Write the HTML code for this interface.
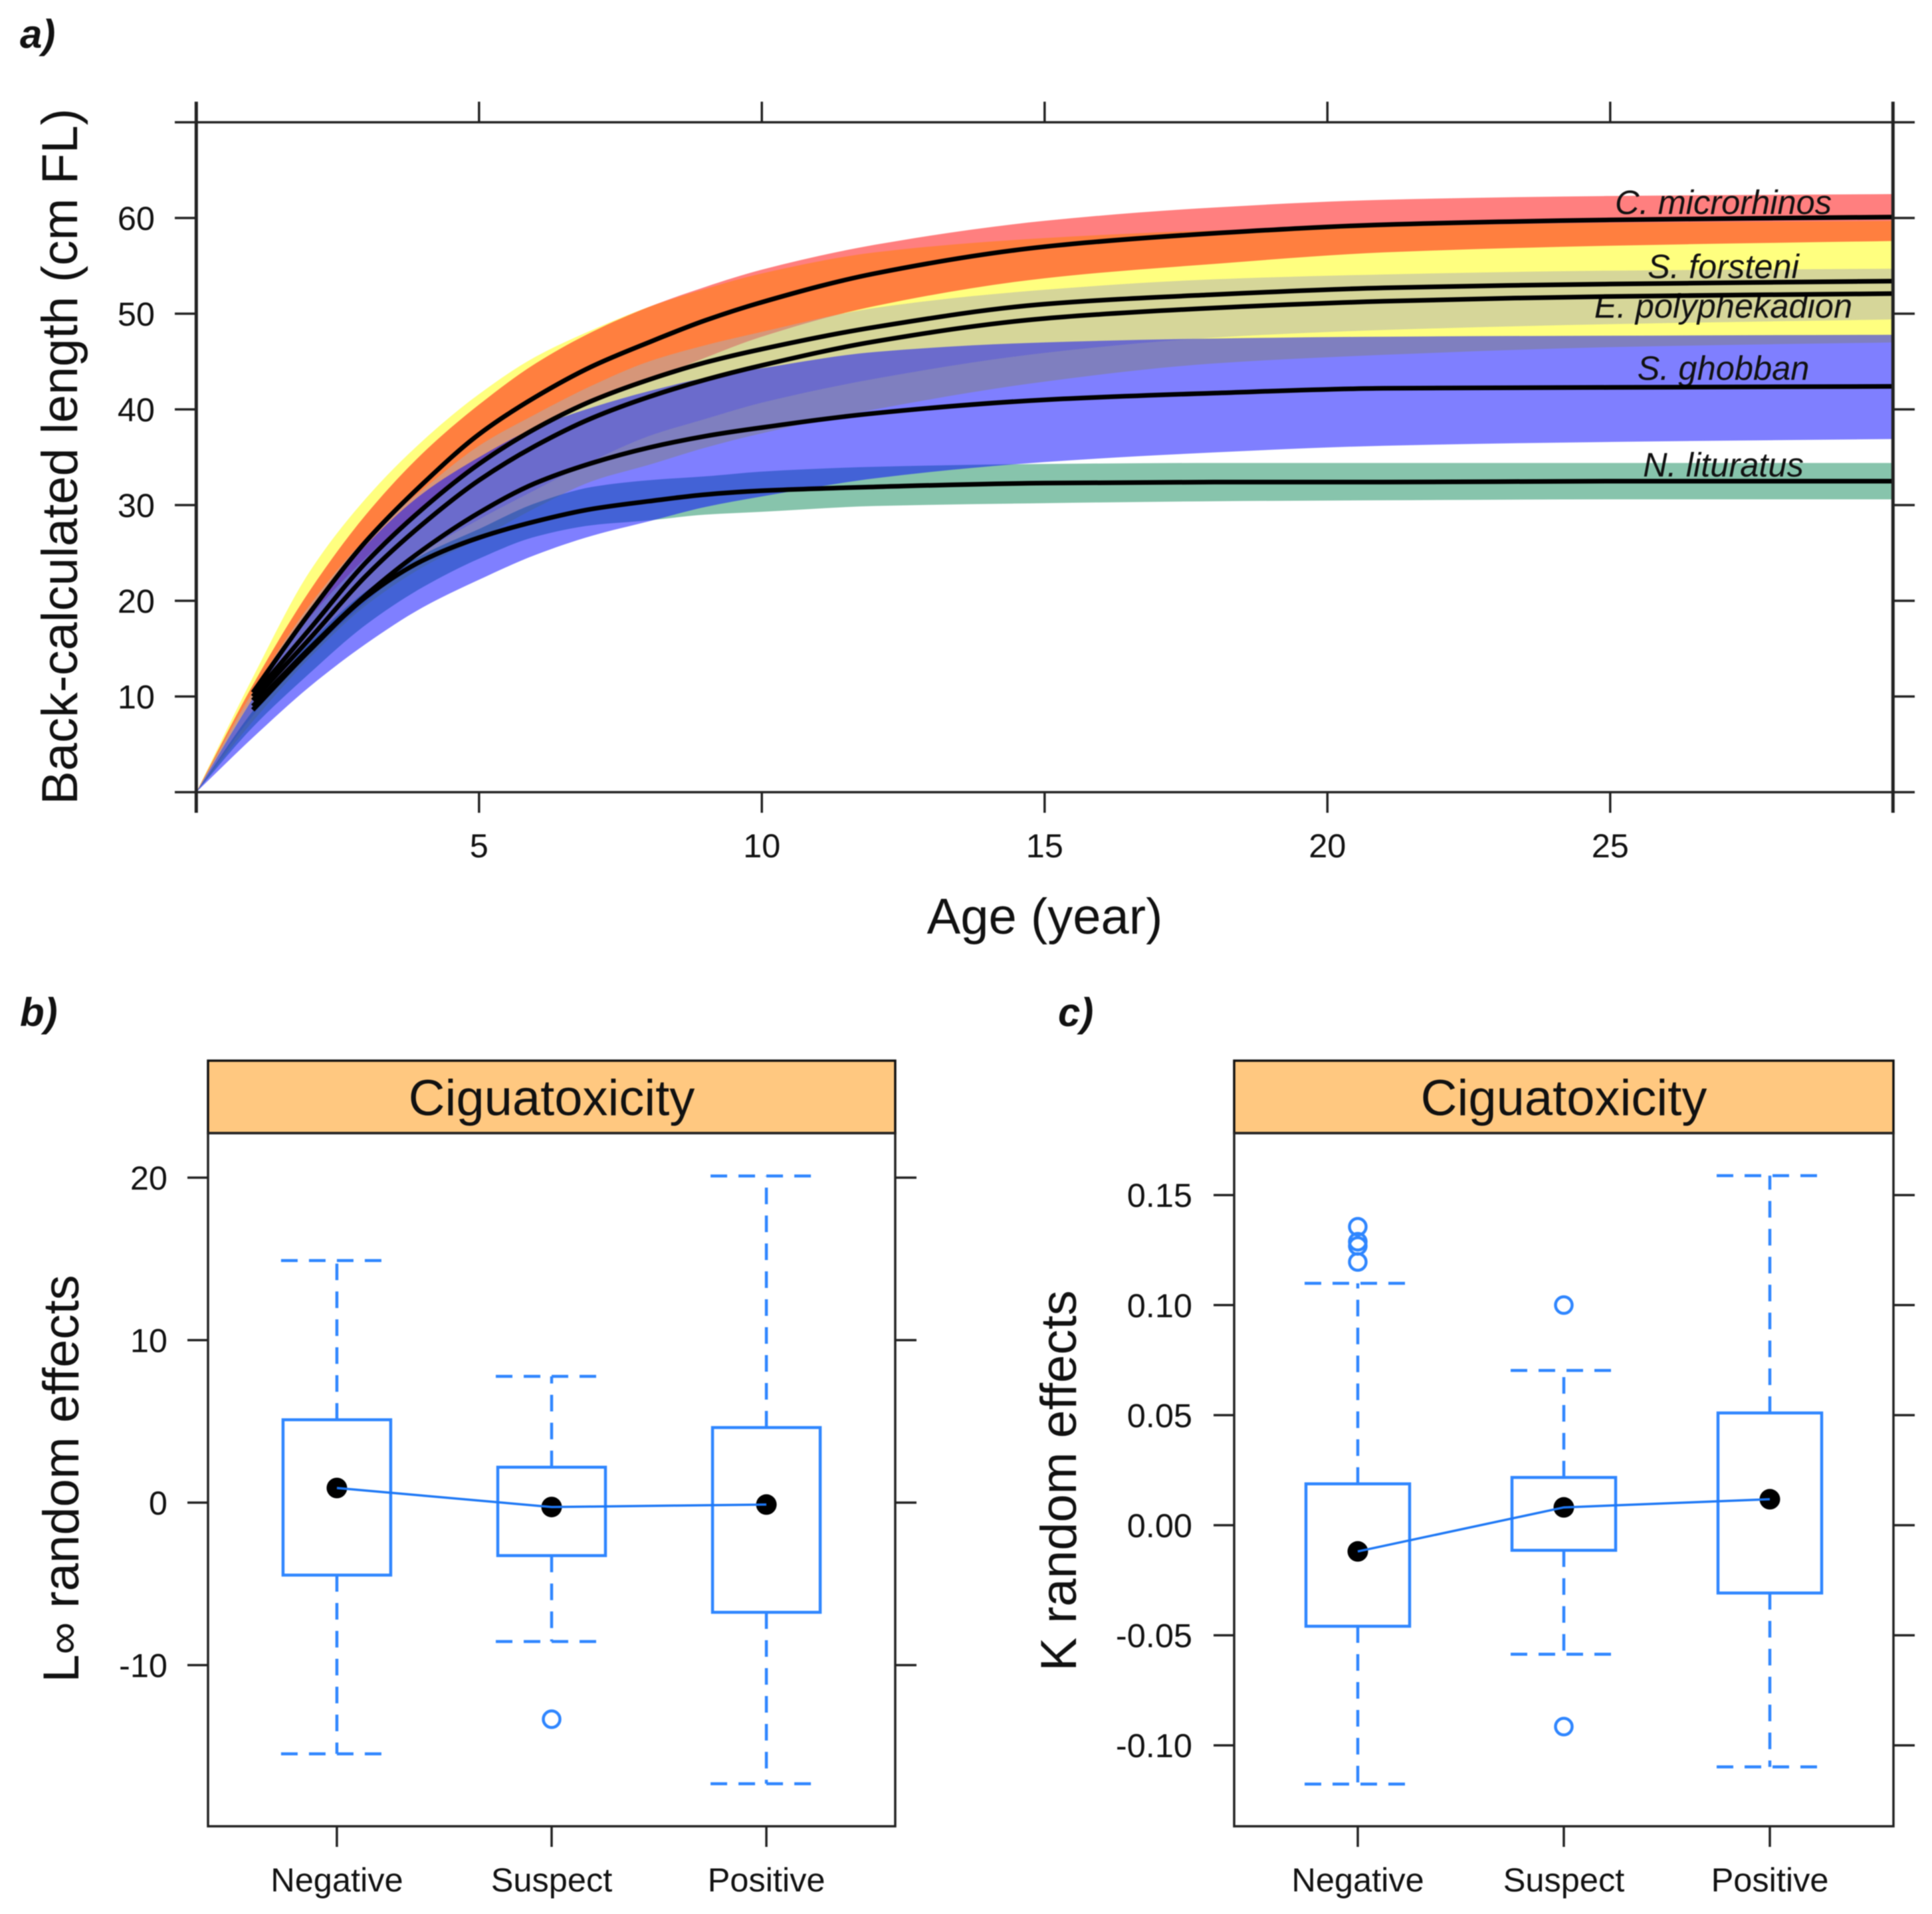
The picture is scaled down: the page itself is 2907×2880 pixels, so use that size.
<!DOCTYPE html>
<html lang="en">
<head>
<meta charset="utf-8">
<title>Back-calculated growth and ciguatoxicity random effects</title>
<style>
html,body{margin:0;padding:0;background:#fff;width:2907px;height:2880px;overflow:hidden}
svg{position:absolute;left:0;top:0;filter:blur(0.7px)}
text{font-family:"Liberation Sans",Arial,sans-serif;fill:#111}
.tick{font-size:50.5px}
.title{font-size:76px}
.tag{font-size:60px;font-weight:bold;font-style:italic}
.sp{font-size:50.6px;font-style:italic;text-anchor:middle}
</style>
</head>
<body>
<svg id="fig" xmlns="http://www.w3.org/2000/svg" width="2907" height="2880" viewBox="0 0 2907 2880">
  <rect x="0" y="0" width="2907" height="2880" fill="#fff"/>

  <g id="panelA">
    <text class="tag" x="30" y="72">a)</text>
    <text class="title" transform="translate(116,687) rotate(-90)" text-anchor="middle">Back-calculated length (cm FL)</text>
    <text class="title" x="1572" y="1405" text-anchor="middle">Age (year)</text>
  </g>

  <g id="panelB">
    <text class="tag" x="30" y="1544">b)</text>
    <rect x="313" y="1596" width="1034" height="109" fill="#FFC880" stroke="#111" stroke-width="3.5"/>
    <text class="title" x="830" y="1678" text-anchor="middle">Ciguatoxicity</text>
    <text class="title" transform="translate(118,2225) rotate(-90)" text-anchor="middle">L<tspan font-size="68">∞</tspan> random effects</text>
  </g>

  <g id="panelC">
    <text class="tag" x="1592" y="1544">c)</text>
    <rect x="1857" y="1596" width="992" height="109" fill="#FFC880" stroke="#111" stroke-width="3.5"/>
    <text class="title" x="2353" y="1678" text-anchor="middle">Ciguatoxicity</text>
    <text class="title" transform="translate(1619,2228) rotate(-90)" text-anchor="middle">K random effects</text>
  </g>
</svg>

<script>
// ---------- Panel a data ----------
const ages = [0,1,2,3,4,5,6,7,8,9,10,12,15,18,21,25,30];
const xTickValuesA = [5,10,15,20,25];
const yTickValuesA = [10,20,30,40,50,60];

const forsteniUpper = [0,12,23,30.7,36.7,41.6,45.5,48.3,50.7,52.6,54.2,56.4,57.9,58.7,59.1,59.5,59.7];
const forsteniLower = [0,7.4,14,19.5,23.5,26.5,29.7,32.5,34.2,36,37.5,40,42.9,44.8,45.7,46.5,47];
const forsteniMean  = [0,10,17,24,29.6,34.3,38,40.9,43.1,44.9,46.3,48.6,51,52,52.7,53.1,53.4];

const microrhinosUpper = [0,11.2,21,29,35.4,40.5,44.8,48.1,50.7,52.8,54.6,57.2,59.7,61.1,61.9,62.3,62.5];
const microrhinosLower = [0,9.8,18.2,24.5,29.8,34.4,38,40.7,43,45.4,47.6,50.8,53.7,55.2,56.4,57.1,57.6];
const microrhinosMean  = [0,10.4,18.7,26.2,32.2,37.4,41.3,44.5,47,49.3,51.2,54.2,57,58.4,59.3,59.8,60.1];

const polyphekadionUpper = [0,10.5,19.5,26.5,31.6,36.2,39.5,42.5,45,46.7,48.1,50.6,52.5,53.6,54.1,54.5,54.7];
const polyphekadionLower = [0,8,14.5,19.8,25,28.5,31.6,34.6,37.2,39,40.7,43.2,45.9,47.5,48.3,48.9,49.4];
const polyphekadionMean  = [0,9.6,16,22.6,28,32.6,36.2,39.1,41.3,43.1,44.6,47.1,49.5,50.6,51.3,51.8,52.1];

const lituratusUpper = [0,8.5,15.6,21,24.8,27.5,30.2,31.9,32.6,33,33.5,34,34.3,34.4,34.4,34.4,34.4];
const lituratusLower = [0,6.8,12.4,17.5,21.4,24.4,26.7,27.9,28.4,29,29.3,29.9,30.2,30.4,30.5,30.6,30.6];
const lituratusMean  = [0,8.6,14.8,20.4,24.2,26.6,28.3,29.6,30.4,31.1,31.5,31.9,32.3,32.4,32.4,32.5,32.5];

const ghobbanUpper = [0,9.8,18.6,25.8,31.2,35,38.1,40.2,41.9,43.3,44.3,46,47,47.4,47.6,47.7,47.8];
const ghobbanLower = [0,5.7,11,15.5,19.3,22.2,24.8,26.8,28.3,29.8,30.9,32.8,34.5,35.5,36.2,36.6,36.9];
const ghobbanMean  = [0,9,15,20.6,25.3,29.2,32.3,34.4,36,37.2,38.1,39.6,41,41.7,42.2,42.3,42.4];

const speciesNames  = ['C. microrhinos','S. forsteni','E. polyphekadion','S. ghobban','N. lituratus'];
const speciesLabelLengths = [60.4,53.7,49.6,43.1,33];
const speciesLabelAge = 27;

// ---------- Panel b / c data ----------
const categories = ['Negative','Suspect','Positive'];

const yTickValuesB = [-10,0,10,20];
const yTickLabelsB = ['-10','0','10','20'];
const linfBoxTop    = [5.1,2.18,4.62];
const linfBoxBottom = [-4.46,-3.26,-6.75];
const linfMedian    = [0.9,-0.27,-0.12];
const linfWhiskerHigh = [14.9,7.77,20.1];
const linfWhiskerLow  = [-15.46,-8.55,-17.3];
const linfOutlierCategory = [2];
const linfOutlierValue    = [-13.33];

const yTickValuesC = [-0.10,-0.05,0,0.05,0.10,0.15];
const yTickLabelsC = ['-0.10','-0.05','0.00','0.05','0.10','0.15'];
const kBoxTop    = [0.0188,0.0217,0.051];
const kBoxBottom = [-0.0459,-0.0114,-0.0308];
const kMedian    = [-0.0119,0.0081,0.0118];
const kWhiskerHigh = [0.1099,0.0703,0.1588];
const kWhiskerLow  = [-0.1176,-0.0586,-0.1098];
const kOutlierCategory = [1,1,1,1,2,2];
const kOutlierValue    = [0.1356,0.1288,0.1269,0.1196,0.1,-0.0915];

// ---------- Axis functions ----------
const xA = a => 295.3 + a * 85.1;
const yA = v => 1192 - v * 14.4;
const xB = c => 313 + (c - 0.4) * (1034 / 3.2);
const yB = v => 2261 - v * 24.45;
const xC = c => 1857 + (c - 0.4) * (992 / 3.2);
const yC = v => 2295 - v * 3312;

// ---------- Drawing helpers ----------
const NS = 'http://www.w3.org/2000/svg';
const BLUE = '#2F86FF';
function shape(parent, tag, props) {
  const el = document.createElementNS(NS, tag);
  for (const k in props) el.setAttribute(k, props[k]);
  parent.appendChild(el);
  return el;
}
function seg(parent, x1, y1, x2, y2, stroke, width) {
  return shape(parent, 'line', {x1, y1, x2, y2, stroke, 'stroke-width': width});
}
function label(parent, x, y, str, anchor, cls) {
  const el = shape(parent, 'text', {x, y, 'text-anchor': anchor, class: cls});
  el.textContent = str;
  return el;
}
// Monotone cubic tangents through pixel points (Fritsch-Carlson)
function tangents(px, py) {
  const n = px.length, d = [], m = new Array(n);
  for (let i = 0; i < n - 1; i++) d.push((py[i + 1] - py[i]) / (px[i + 1] - px[i]));
  m[0] = d[0];
  m[n - 1] = d[n - 2];
  for (let i = 1; i < n - 1; i++) {
    if (d[i - 1] * d[i] <= 0) { m[i] = 0; continue; }
    const h0 = px[i] - px[i - 1], h1 = px[i + 1] - px[i];
    m[i] = 3 * (h0 + h1) / ((2 * h1 + h0) / d[i - 1] + (h1 + 2 * h0) / d[i]);
  }
  return m;
}
// Curve commands running through the points, in forward or reversed order
function curveCommands(px, py, reversed) {
  const m = tangents(px, py), n = px.length;
  let out = '';
  if (!reversed) {
    for (let i = 0; i < n - 1; i++) {
      const h = (px[i + 1] - px[i]) / 3;
      out += ' C' + (px[i] + h).toFixed(1) + ' ' + (py[i] + m[i] * h).toFixed(1) + ' ' +
             (px[i + 1] - h).toFixed(1) + ' ' + (py[i + 1] - m[i + 1] * h).toFixed(1) + ' ' +
             px[i + 1].toFixed(1) + ' ' + py[i + 1].toFixed(1);
    }
  } else {
    for (let i = n - 1; i > 0; i--) {
      const h = (px[i] - px[i - 1]) / 3;
      out += ' C' + (px[i] - h).toFixed(1) + ' ' + (py[i] - m[i] * h).toFixed(1) + ' ' +
             (px[i - 1] + h).toFixed(1) + ' ' + (py[i - 1] + m[i - 1] * h).toFixed(1) + ' ' +
             px[i - 1].toFixed(1) + ' ' + py[i - 1].toFixed(1);
    }
  }
  return out;
}

// ---------- Panel a ----------
const gA = document.getElementById('panelA');
const agePx = ages.map(xA);

function drawBand(upper, lower, fill) {
  const up = upper.map(yA), lo = lower.map(yA), n = ages.length;
  const d = 'M' + agePx[0].toFixed(1) + ' ' + up[0].toFixed(1) +
    curveCommands(agePx, up, false) +
    ' L' + agePx[n - 1].toFixed(1) + ' ' + lo[n - 1].toFixed(1) +
    curveCommands(agePx, lo, true) + ' Z';
  return shape(gA, 'path', {d: d, fill: fill, stroke: 'none'});
}
let bandEl;
bandEl = drawBand(forsteniUpper, forsteniLower, 'rgba(255,255,0,0.5)');


bandEl = drawBand(microrhinosUpper, microrhinosLower, 'rgba(255,0,0,0.5)');


bandEl = drawBand(polyphekadionUpper, polyphekadionLower, 'rgba(173,173,180,0.5)');


bandEl = drawBand(lituratusUpper, lituratusLower, 'rgba(15,137,89,0.5)');


bandEl = drawBand(ghobbanUpper, ghobbanLower, 'rgba(0,0,255,0.5)');



speciesNames.forEach((name, i) => {
  const t = shape(gA, 'text', {x: xA(speciesLabelAge), y: yA(speciesLabelLengths[i]), class: 'sp'});
  t.textContent = name;
  
  
});

function drawMean(vals) {
  const px = agePx.slice(1), py = vals.slice(1).map(yA);
  const d = 'M' + px[0].toFixed(1) + ' ' + py[0].toFixed(1) + curveCommands(px, py, false);
  return shape(gA, 'path', {d: d, fill: 'none', stroke: '#000', 'stroke-width': 7, 'stroke-linejoin': 'round'});
}
let meanEl;
meanEl = drawMean(microrhinosMean);


meanEl = drawMean(forsteniMean);


meanEl = drawMean(polyphekadionMean);


meanEl = drawMean(ghobbanMean);


meanEl = drawMean(lituratusMean);



// frame of panel a: lines overshoot the plot region like the tick marks
const aFrame = [
  [263, yA(70), 2881, yA(70), 3.5],
  [263, yA(0), 2881, yA(0), 3.5],
  [xA(0), 153, xA(0), 1223, 5],
  [xA(30), 153, xA(30), 1223, 5]
];
aFrame.forEach(f => {
  const l = seg(gA, f[0], f[1], f[2], f[3], '#222', f[4]);
  
  
});
xTickValuesA.forEach(v => {
  const t1 = seg(gA, xA(v), 153, xA(v), yA(70), '#222', 3.5);
  
  
  const t2 = seg(gA, xA(v), yA(0), xA(v), 1223, '#222', 3.5);
  
  
  const tl = label(gA, xA(v), 1290, String(v), 'middle', 'tick');
  
  
});
yTickValuesA.forEach(v => {
  const t1 = seg(gA, 263, yA(v), xA(0), yA(v), '#222', 3.5);
  
  
  const t2 = seg(gA, xA(30), yA(v), 2881, yA(v), '#222', 3.5);
  
  
  const tl = label(gA, 233, yA(v) + 18, String(v), 'end', 'tick');
  
  
});

// ---------- Box panels ----------
function drawBoxPanel(group, x, y, left, right, top, bottom, tickVals, tickLabels, labelRight,
                      boxTop, boxBottom, med, wHigh, wLow, outCat, outVal, boxHalf, capHalf) {
  const frame = shape(group, 'rect', {x: left, y: top, width: right - left, height: bottom - top, fill: 'none', stroke: '#222', 'stroke-width': 3.5});
  
  

  tickVals.forEach((v, i) => {
    const t1 = seg(group, left - 31, y(v), left, y(v), '#222', 3.5);
    
    
    const t2 = seg(group, right, y(v), right + 32, y(v), '#222', 3.5);
    
    
    const tl = label(group, labelRight, y(v) + 18, tickLabels[i], 'end', 'tick');
    
    
  });

  categories.forEach((name, i) => {
    const cx = x(i + 1);
    const tk = seg(group, cx, bottom, cx, bottom + 31, '#222', 3.5);
    
    
    const tl = label(group, cx, 2846, name, 'middle', 'tick');
    
    

    const wu = seg(group, cx, y(boxTop[i]), cx, y(wHigh[i]), BLUE, 4.5);
    wu.setAttribute('stroke-dasharray', '25 17');
    
    
    const wl = seg(group, cx, y(boxBottom[i]), cx, y(wLow[i]), BLUE, 4.5);
    wl.setAttribute('stroke-dasharray', '25 17');
    
    
    const cu = seg(group, cx - capHalf, y(wHigh[i]), cx + capHalf, y(wHigh[i]), BLUE, 4.5);
    cu.setAttribute('stroke-dasharray', '25 17');
    
    
    const cl = seg(group, cx - capHalf, y(wLow[i]), cx + capHalf, y(wLow[i]), BLUE, 4.5);
    cl.setAttribute('stroke-dasharray', '25 17');
    
    

    const box = shape(group, 'rect', {x: cx - boxHalf, y: y(boxTop[i]), width: boxHalf * 2, height: y(boxBottom[i]) - y(boxTop[i]), fill: 'none', stroke: BLUE, 'stroke-width': 4.5});
    
    
  });

  outVal.forEach((v, i) => {
    const o = shape(group, 'circle', {cx: x(outCat[i]), cy: y(v), r: 12.5, fill: 'none', stroke: BLUE, 'stroke-width': 4.5});
    
    
  });

  med.forEach((v, i) => {
    const d = shape(group, 'circle', {cx: x(i + 1), cy: y(v), r: 15.5, fill: '#000'});
    
    
  });
  const conn = shape(group, 'polyline', {points: med.map((v, i) => x(i + 1).toFixed(1) + ',' + y(v).toFixed(1)).join(' '), fill: 'none', stroke: '#1E78F5', 'stroke-width': 3.5});
  
  
}

drawBoxPanel(document.getElementById('panelB'), xB, yB, 313, 1347, 1705, 2748,
  yTickValuesB, yTickLabelsB, 252,
  linfBoxTop, linfBoxBottom, linfMedian, linfWhiskerHigh, linfWhiskerLow,
  linfOutlierCategory, linfOutlierValue, 81, 84);

drawBoxPanel(document.getElementById('panelC'), xC, yC, 1857, 2849, 1705, 2748,
  yTickValuesC, yTickLabelsC, 1794,
  kBoxTop, kBoxBottom, kMedian, kWhiskerHigh, kWhiskerLow,
  kOutlierCategory, kOutlierValue, 78, 80);
</script>
</body>
</html>
